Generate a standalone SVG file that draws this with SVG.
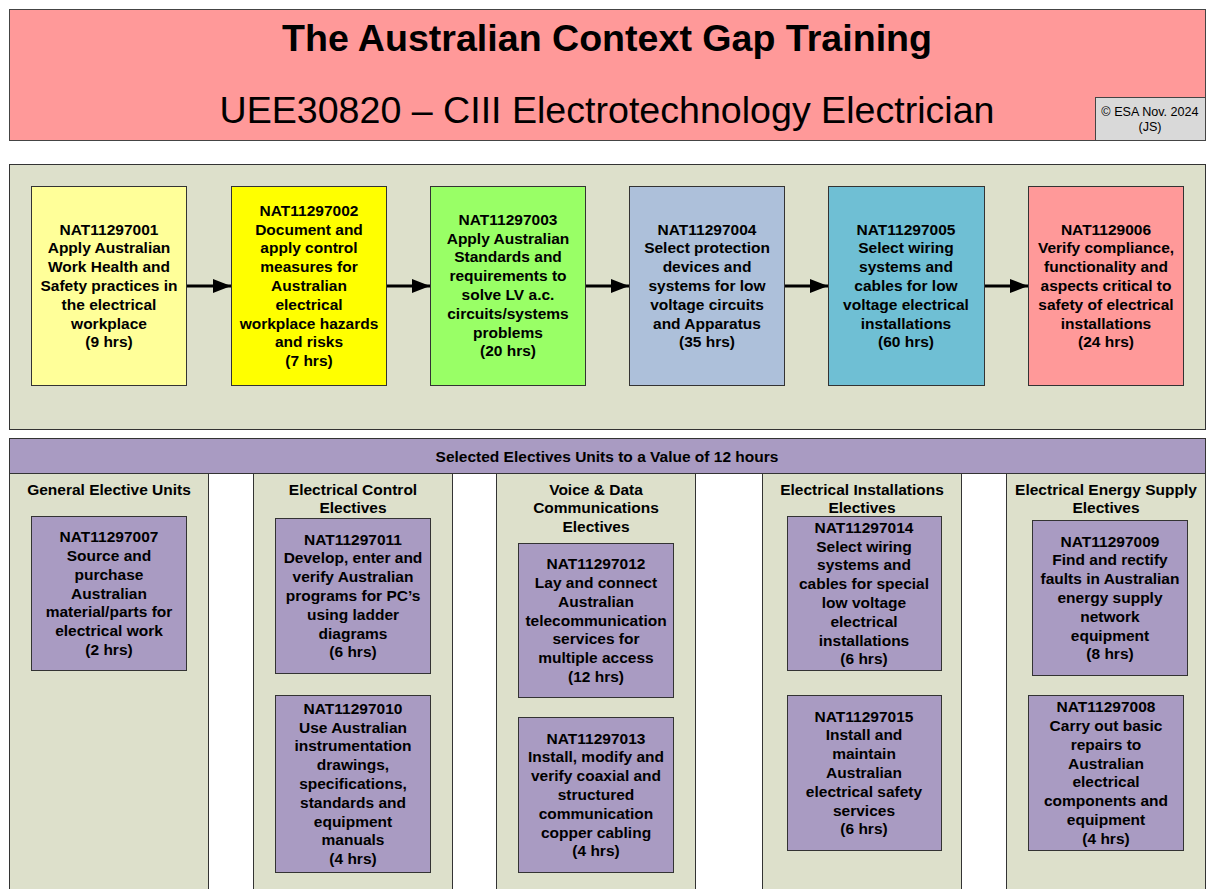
<svg xmlns="http://www.w3.org/2000/svg" width="1208" height="889" viewBox="0 0 1208 889">
<style>
text{font-family:"Liberation Sans",Arial,sans-serif;fill:#000}
.b{font-weight:bold;font-size:15.5px;text-anchor:middle}
.box{stroke:#333;stroke-width:1}
.panel{fill:#DDE0CB;stroke:#333;stroke-width:1}
.purple{fill:#A99BC2;stroke:#333;stroke-width:1}
.conn{stroke:#000;stroke-width:3;fill:none}
</style>
<defs>
<marker id="ah" markerUnits="userSpaceOnUse" markerWidth="20" markerHeight="16" refX="18" refY="7" orient="auto">
<path d="M0,0 L18,7 L0,14 Z" fill="#000"/>
</marker>
</defs>
<rect width="1208" height="889" fill="#fff"/>

<g id="title">
<rect x="9.5" y="9.5" width="1196" height="131" fill="#FF9999" stroke="#444"/>
<text x="607" y="51" style="font-size:37.6px;font-weight:bold;text-anchor:middle">The Australian Context Gap Training</text>
<text x="607" y="123" style="font-size:37.6px;text-anchor:middle">UEE30820 – CIII Electrotechnology Electrician</text>
</g>
<g id="copyright">
<rect x="1095.5" y="97.5" width="110" height="43" fill="#D9D9D9" stroke="#444"/>
<text x="1150" y="116" style="font-size:12.6px;text-anchor:middle">© ESA Nov. 2024</text>
<text x="1150" y="131" style="font-size:12.6px;text-anchor:middle">(JS)</text>
</g>

<g id="core-panel">
<rect class="panel" x="9.5" y="164.5" width="1196" height="265"/>
</g>

<g id="n001">
<rect class="box" x="31.5" y="186.5" width="155" height="199" fill="#FFFF99"/>
<text class="b" x="109" y="234.6"><tspan x="109">NAT11297001</tspan><tspan x="109" dy="18.8">Apply Australian</tspan><tspan x="109" dy="18.8">Work Health and</tspan><tspan x="109" dy="18.8">Safety practices in</tspan><tspan x="109" dy="18.8">the electrical</tspan><tspan x="109" dy="18.8">workplace</tspan><tspan x="109" dy="18.8">(9 hrs)</tspan></text>
</g>
<g id="n002">
<rect class="box" x="231.5" y="186.5" width="155" height="199" fill="#FFFF00"/>
<text class="b" x="309" y="215.8"><tspan x="309">NAT11297002</tspan><tspan x="309" dy="18.8">Document and</tspan><tspan x="309" dy="18.8">apply control</tspan><tspan x="309" dy="18.8">measures for</tspan><tspan x="309" dy="18.8">Australian</tspan><tspan x="309" dy="18.8">electrical</tspan><tspan x="309" dy="18.8">workplace hazards</tspan><tspan x="309" dy="18.8">and risks</tspan><tspan x="309" dy="18.8">(7 hrs)</tspan></text>
</g>
<g id="n003">
<rect class="box" x="430.5" y="186.5" width="155" height="199" fill="#99FF66"/>
<text class="b" x="508" y="224.7"><tspan x="508">NAT11297003</tspan><tspan x="508" dy="18.8">Apply Australian</tspan><tspan x="508" dy="18.8">Standards and</tspan><tspan x="508" dy="18.8">requirements to</tspan><tspan x="508" dy="18.8">solve LV a.c.</tspan><tspan x="508" dy="18.8">circuits/systems</tspan><tspan x="508" dy="18.8">problems</tspan><tspan x="508" dy="18.8">(20 hrs)</tspan></text>
</g>
<g id="n004">
<rect class="box" x="629.5" y="186.5" width="155" height="199" fill="#ADC0DA"/>
<text class="b" x="707" y="234.6"><tspan x="707">NAT11297004</tspan><tspan x="707" dy="18.8">Select protection</tspan><tspan x="707" dy="18.8">devices and</tspan><tspan x="707" dy="18.8">systems for low</tspan><tspan x="707" dy="18.8">voltage circuits</tspan><tspan x="707" dy="18.8">and Apparatus</tspan><tspan x="707" dy="18.8">(35 hrs)</tspan></text>
</g>
<g id="n005">
<rect class="box" x="828.5" y="186.5" width="156" height="199" fill="#6FBFD4"/>
<text class="b" x="906" y="234.6"><tspan x="906">NAT11297005</tspan><tspan x="906" dy="18.8">Select wiring</tspan><tspan x="906" dy="18.8">systems and</tspan><tspan x="906" dy="18.8">cables for low</tspan><tspan x="906" dy="18.8">voltage electrical</tspan><tspan x="906" dy="18.8">installations</tspan><tspan x="906" dy="18.8">(60 hrs)</tspan></text>
</g>
<g id="n006">
<rect class="box" x="1028.5" y="186.5" width="155" height="199" fill="#FF9999"/>
<text class="b" x="1106" y="234.6"><tspan x="1106">NAT1129006</tspan><tspan x="1106" dy="18.8">Verify compliance,</tspan><tspan x="1106" dy="18.8">functionality and</tspan><tspan x="1106" dy="18.8">aspects critical to</tspan><tspan x="1106" dy="18.8">safety of electrical</tspan><tspan x="1106" dy="18.8">installations</tspan><tspan x="1106" dy="18.8">(24 hrs)</tspan></text>
</g>

<g id="connectors">
<line class="conn" x1="187" y1="286" x2="231" y2="286" marker-end="url(#ah)"/>
<line class="conn" x1="387" y1="286" x2="430" y2="286" marker-end="url(#ah)"/>
<line class="conn" x1="586" y1="286" x2="629" y2="286" marker-end="url(#ah)"/>
<line class="conn" x1="785" y1="286" x2="828" y2="286" marker-end="url(#ah)"/>
<line class="conn" x1="985" y1="286" x2="1028" y2="286" marker-end="url(#ah)"/>
</g>

<g id="electives-columns">
<rect class="panel" x="9.5" y="473.5" width="199" height="420"/>
<rect class="panel" x="253.5" y="473.5" width="199" height="420"/>
<rect class="panel" x="496.5" y="473.5" width="199" height="420"/>
<rect class="panel" x="762.5" y="473.5" width="199" height="420"/>
<rect class="panel" x="1006.5" y="473.5" width="199" height="420"/>
</g>
<g id="electives-header">
<rect class="purple" x="9.5" y="438.5" width="1196" height="35"/>
<text class="b" x="607" y="461.5">Selected Electives Units to a Value of 12 hours</text>
</g>

<g id="col-general">
<text class="b" x="109" y="494.5">General Elective Units</text>
</g>
<g id="col-control">
<text class="b" x="353" y="494.5"><tspan x="353">Electrical Control</tspan><tspan x="353" dy="18.8">Electives</tspan></text>
</g>
<g id="col-voice">
<text class="b" x="596" y="494.5"><tspan x="596">Voice &amp; Data</tspan><tspan x="596" dy="18.8">Communications</tspan><tspan x="596" dy="18.8">Electives</tspan></text>
</g>
<g id="col-install">
<text class="b" x="862" y="494.5"><tspan x="862">Electrical Installations</tspan><tspan x="862" dy="18.8">Electives</tspan></text>
</g>
<g id="col-energy">
<text class="b" x="1106" y="494.5"><tspan x="1106">Electrical Energy Supply</tspan><tspan x="1106" dy="18.8">Electives</tspan></text>
</g>

<g id="n007">
<rect class="purple" x="31.5" y="516.5" width="155" height="154"/>
<text class="b" x="109" y="542.1"><tspan x="109">NAT11297007</tspan><tspan x="109" dy="18.8">Source and</tspan><tspan x="109" dy="18.8">purchase</tspan><tspan x="109" dy="18.8">Australian</tspan><tspan x="109" dy="18.8">material/parts for</tspan><tspan x="109" dy="18.8">electrical work</tspan><tspan x="109" dy="18.8">(2 hrs)</tspan></text>
</g>
<g id="n011">
<rect class="purple" x="275.5" y="518.5" width="155" height="155"/>
<text class="b" x="353" y="544.6"><tspan x="353">NAT11297011</tspan><tspan x="353" dy="18.8">Develop, enter and</tspan><tspan x="353" dy="18.8">verify Australian</tspan><tspan x="353" dy="18.8">programs for PC’s</tspan><tspan x="353" dy="18.8">using ladder</tspan><tspan x="353" dy="18.8">diagrams</tspan><tspan x="353" dy="18.8">(6 hrs)</tspan></text>
</g>
<g id="n010">
<rect class="purple" x="275.5" y="695.5" width="155" height="177"/>
<text class="b" x="353" y="713.8"><tspan x="353">NAT11297010</tspan><tspan x="353" dy="18.8">Use Australian</tspan><tspan x="353" dy="18.8">instrumentation</tspan><tspan x="353" dy="18.8">drawings,</tspan><tspan x="353" dy="18.8">specifications,</tspan><tspan x="353" dy="18.8">standards and</tspan><tspan x="353" dy="18.8">equipment</tspan><tspan x="353" dy="18.8">manuals</tspan><tspan x="353" dy="18.8">(4 hrs)</tspan></text>
</g>
<g id="n012">
<rect class="purple" x="518.5" y="543.5" width="155" height="154"/>
<text class="b" x="596" y="569.1"><tspan x="596">NAT11297012</tspan><tspan x="596" dy="18.8">Lay and connect</tspan><tspan x="596" dy="18.8">Australian</tspan><tspan x="596" dy="18.8">telecommunication</tspan><tspan x="596" dy="18.8">services for</tspan><tspan x="596" dy="18.8">multiple access</tspan><tspan x="596" dy="18.8">(12 hrs)</tspan></text>
</g>
<g id="n013">
<rect class="purple" x="518.5" y="717.5" width="155" height="155"/>
<text class="b" x="596" y="743.6"><tspan x="596">NAT11297013</tspan><tspan x="596" dy="18.8">Install, modify and</tspan><tspan x="596" dy="18.8">verify coaxial and</tspan><tspan x="596" dy="18.8">structured</tspan><tspan x="596" dy="18.8">communication</tspan><tspan x="596" dy="18.8">copper cabling</tspan><tspan x="596" dy="18.8">(4 hrs)</tspan></text>
</g>
<g id="n014">
<rect class="purple" x="787.5" y="516.5" width="154" height="154"/>
<text class="b" x="864" y="532.7"><tspan x="864">NAT11297014</tspan><tspan x="864" dy="18.8">Select wiring</tspan><tspan x="864" dy="18.8">systems and</tspan><tspan x="864" dy="18.8">cables for special</tspan><tspan x="864" dy="18.8">low voltage</tspan><tspan x="864" dy="18.8">electrical</tspan><tspan x="864" dy="18.8">installations</tspan><tspan x="864" dy="18.8">(6 hrs)</tspan></text>
</g>
<g id="n015">
<rect class="purple" x="787.5" y="695.5" width="154" height="155"/>
<text class="b" x="864" y="721.6"><tspan x="864">NAT11297015</tspan><tspan x="864" dy="18.8">Install and</tspan><tspan x="864" dy="18.8">maintain</tspan><tspan x="864" dy="18.8">Australian</tspan><tspan x="864" dy="18.8">electrical safety</tspan><tspan x="864" dy="18.8">services</tspan><tspan x="864" dy="18.8">(6 hrs)</tspan></text>
</g>
<g id="n009">
<rect class="purple" x="1032.5" y="520.5" width="155" height="155"/>
<text class="b" x="1110" y="546.6"><tspan x="1110">NAT11297009</tspan><tspan x="1110" dy="18.8">Find and rectify</tspan><tspan x="1110" dy="18.8">faults in Australian</tspan><tspan x="1110" dy="18.8">energy supply</tspan><tspan x="1110" dy="18.8">network</tspan><tspan x="1110" dy="18.8">equipment</tspan><tspan x="1110" dy="18.8">(8 hrs)</tspan></text>
</g>
<g id="n008">
<rect class="purple" x="1028.5" y="695.5" width="155" height="155"/>
<text class="b" x="1106" y="712.2"><tspan x="1106">NAT11297008</tspan><tspan x="1106" dy="18.8">Carry out basic</tspan><tspan x="1106" dy="18.8">repairs to</tspan><tspan x="1106" dy="18.8">Australian</tspan><tspan x="1106" dy="18.8">electrical</tspan><tspan x="1106" dy="18.8">components and</tspan><tspan x="1106" dy="18.8">equipment</tspan><tspan x="1106" dy="18.8">(4 hrs)</tspan></text>
</g>
</svg>
